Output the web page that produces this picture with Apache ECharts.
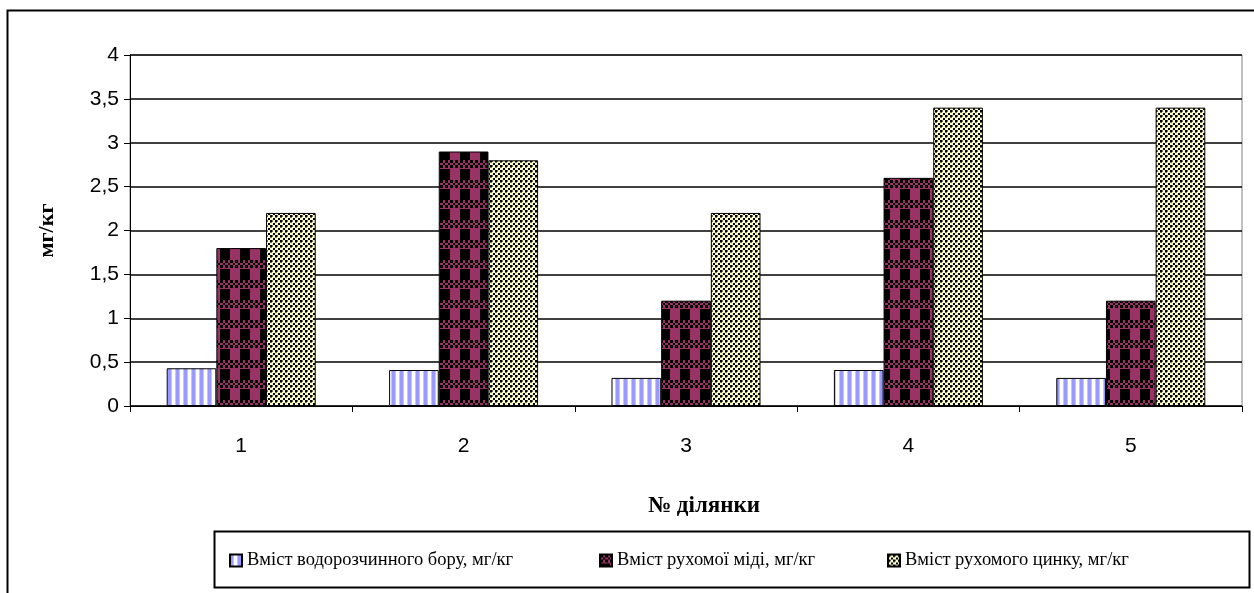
<!DOCTYPE html>
<html>
<head>
<meta charset="utf-8">
<script src="https://cdn.jsdelivr.net/npm/echarts@6/dist/echarts.min.js"></script>
<style>
  html, body { margin: 0; padding: 0; background: #fff; }
  #chart { width: 1254px; height: 593px; }
</style>
</head>
<body>
<div id="chart"></div>
<script>
// Plot numbers
const categories = ['1', '2', '3', '4', '5'];
const seriesNames = [
  'Вміст водорозчинного бору, мг/кг',
  'Вміст рухомої міді, мг/кг',
  'Вміст рухомого цинку, мг/кг'
];
const boron = [0.43, 0.41, 0.32, 0.41, 0.32];
const copper = [1.8, 2.9, 1.2, 2.6, 1.2];
const zinc = [2.2, 2.8, 2.2, 3.4, 3.4];
const yTicks = { min: 0, max: 4, step: 0.5 };

// Hatch fills, built on small repeating canvases
function tile(w, h, draw) {
  const c = document.createElement('canvas');
  c.width = w; c.height = h;
  draw(c.getContext('2d'));
  return { image: c, repeat: 'repeat' };
}

// light blue vertical stripes
const stripeFill = tile(8, 8, g => {
  g.fillStyle = '#ffffff'; g.fillRect(0, 0, 8, 8);
  g.fillStyle = '#9999ff'; g.fillRect(0, 0, 3, 8);
  g.fillStyle = '#c4c4ff'; g.fillRect(3, 0, 1, 8); g.fillRect(7, 0, 1, 8);
});

// plum plaid: checker band on top, black blocks below
const plaidFill = tile(20, 20, g => {
  g.fillStyle = '#993366'; g.fillRect(0, 0, 20, 20);
  g.fillStyle = '#000000';
  const cuts = [0, 3, 5, 8, 10, 13, 15, 18, 20];
  for (let r = 0; r < 3; r++) {
    for (let c = 0; c < 8; c++) {
      if ((r + c) % 2 === 0) {
        g.fillRect(cuts[c], cuts[r], cuts[c + 1] - cuts[c], cuts[r + 1] - cuts[r]);
      }
    }
  }
  g.fillRect(0, 9, 10, 11);
});

// pale yellow ground with a diagonal grid of black dots
const checkerFill = tile(5, 5, g => {
  g.fillStyle = '#ffffcc'; g.fillRect(0, 0, 5, 5);
  g.fillStyle = '#000000';
  g.fillRect(0, 0, 2, 2);
  g.fillRect(3, 3, 2, 2);
  g.fillStyle = '#6b6b55';
  g.fillRect(2, 0, 1, 2); g.fillRect(0, 2, 2, 1);
});

const fills = [stripeFill, plaidFill, checkerFill];
const values = [boron, copper, zinc];

const chart = echarts.init(document.getElementById('chart'), null, { renderer: 'canvas' });

const serif = '"Liberation Serif", "Times New Roman", serif';
const sans = '"Liberation Sans", Arial, sans-serif';

// one legend block per series so each entry sits at its own spot in the frame
const legendLefts = [224, 594, 882];
const legends = seriesNames.map((name, i) => ({
  left: legendLefts[i], top: 546,
  itemWidth: 12, itemHeight: 12,
  icon: 'rect',
  textStyle: { fontFamily: serif, fontSize: 18.5, color: '#000' },
  data: [name]
}));

chart.setOption({
  animation: false,
  backgroundColor: '#ffffff',
  grid: {
    left: 130, right: 12, top: 55, bottom: 187,
    show: true, borderColor: '#808080', borderWidth: 1,
    outerBoundsMode: 'none'
  },
  graphic: [
    { type: 'rect', left: 5, top: 8, shape: { width: 1270, height: 620 },
      style: { fill: 'none', stroke: '#000', lineWidth: 2 }, silent: true },
    { type: 'rect', left: 212, top: 529, shape: { width: 1035, height: 56 },
      style: { fill: 'none', stroke: '#000', lineWidth: 2 }, silent: true }
  ],
  legend: legends,
  xAxis: {
    type: 'category',
    data: categories,
    name: '№ ділянки',
    nameLocation: 'middle',
    nameGap: 89,
    nameTextStyle: { fontFamily: serif, fontSize: 23, fontWeight: 'bold', color: '#000', padding: [0, 0, 0, 36] },
    axisLine: { lineStyle: { color: '#000', width: 1 } },
    axisTick: { show: true, length: 6, lineStyle: { color: '#000' } },
    axisLabel: { fontFamily: sans, fontSize: 21, color: '#000', margin: 30 }
  },
  yAxis: {
    type: 'value',
    min: yTicks.min, max: yTicks.max, interval: yTicks.step,
    name: 'мг/кг',
    nameLocation: 'middle',
    nameRotate: 90,
    nameGap: 72,
    nameTextStyle: { fontFamily: serif, fontSize: 22, fontWeight: 'bold', color: '#000' },
    axisLine: { show: true, lineStyle: { color: '#000', width: 1 } },
    axisTick: { show: true, length: 6, lineStyle: { color: '#000' } },
    axisLabel: {
      fontFamily: sans, fontSize: 21, color: '#000', margin: 11,
      formatter: v => String(v).replace('.', ',')
    },
    splitLine: { lineStyle: { color: '#000', width: 1.5 } }
  },
  series: seriesNames.map((name, i) => ({
    name,
    type: 'bar',
    data: values[i],
    barGap: '0%',
    barCategoryGap: '33%',
    itemStyle: { color: fills[i], borderColor: '#000', borderWidth: 1 }
  }))
});
</script>
</body>
</html>
